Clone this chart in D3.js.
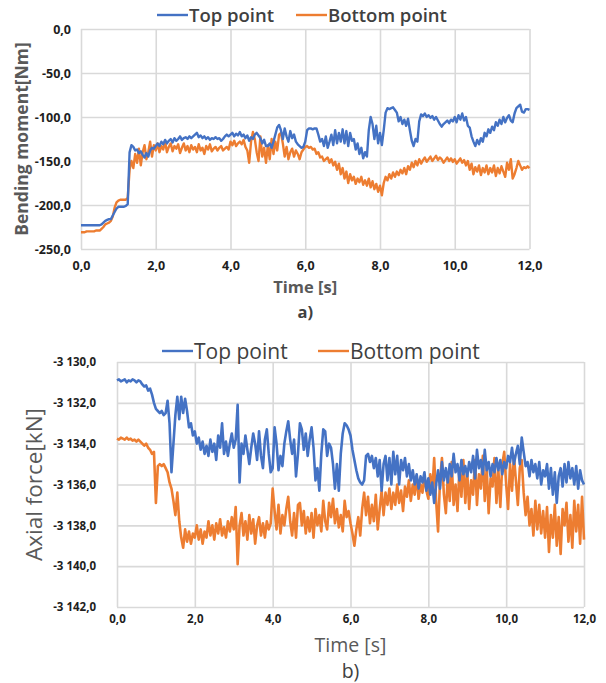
<!DOCTYPE html>
<html>
<head>
<meta charset="utf-8">
<script src="https://cdn.jsdelivr.net/npm/d3@7"></script>
<style>
  body { margin: 0; background: #fff; }
  svg { display: block; }
  text { font-family: "Open Sans", "DejaVu Sans", sans-serif; }
</style>
</head>
<body>
<svg id="chart" width="606" height="683"></svg>
<script>
// Sampling interval of both records (s)
const timeStep = 0.05;

// Panel a) bending moment [Nm]
const momentTop = [
  -223,-223,-223,-223,-223,-223,-223,-223,-223,-223,-223,-222,-220,-218,-217,-216,-216,-212,-208,-204,
  -202,-202,-202,-202,-201,-199,-140,-132,-134,-138,-137,-141,-139,-143,-146,-141,-145,-138,-135,-136,
  -133,-130,-133,-128,-131,-126,-130,-127,-125,-129,-124,-127,-125,-122,-126,-124,-123,-125,-122,-124,
  -122,-120,-118,-123,-121,-124,-122,-125,-123,-126,-124,-125,-123,-125,-124,-127,-125,-122,-120,-122,
  -120,-118,-122,-119,-121,-117,-122,-120,-124,-121,-127,-123,-125,-120,-118,-121,-124,-130,-126,-133,
  -133,-130,-135,-128,-120,-112,-109,-115,-125,-113,-122,-128,-116,-124,-120,-128,-131,-133,-135,-134,
  -128,-115,-113,-113,-114,-113,-113,-120,-128,-125,-133,-122,-135,-128,-120,-132,-115,-130,-118,-128,
  -114,-130,-116,-133,-118,-127,-125,-137,-130,-142,-135,-147,-140,-145,-115,-100,-108,-125,-110,-130,
  -118,-132,-115,-95,-90,-91,-90,-89,-92,-95,-105,-100,-108,-103,-110,-102,-115,-127,-133,-125,
  -128,-105,-97,-99,-96,-100,-98,-101,-99,-103,-100,-104,-108,-111,-108,-106,-104,-107,-103,-105,
  -100,-106,-98,-103,-96,-104,-100,-110,-112,-122,-128,-133,-126,-131,-124,-128,-118,-122,-114,-118,
  -111,-115,-106,-110,-103,-108,-100,-106,-101,-98,-104,-106,-96,-90,-88,-86,-94,-95,-91,-91,
  -92
];
const momentBottom = [
  -231,-231,-231,-230,-230,-230,-230,-230,-229,-229,-229,-227,-225,-222,-221,-220,-218,-213,-203,-197,
  -195,-194,-194,-194,-194,-192,-160,-150,-158,-142,-152,-136,-155,-140,-132,-148,-140,-128,-145,-132,
  -138,-130,-140,-133,-137,-128,-140,-134,-130,-139,-133,-136,-131,-141,-135,-130,-138,-133,-140,-132,
  -137,-134,-140,-131,-138,-135,-142,-133,-137,-131,-139,-136,-134,-138,-135,-133,-138,-136,-134,-137,
  -128,-132,-127,-133,-130,-128,-131,-126,-134,-138,-152,-128,-117,-125,-140,-150,-122,-145,-135,-152,
  -132,-148,-125,-142,-128,-138,-120,-118,-130,-145,-134,-148,-140,-136,-145,-138,-142,-148,-140,-137,
  -134,-133,-135,-134,-137,-136,-142,-140,-146,-145,-150,-148,-146,-152,-148,-155,-151,-160,-153,-165,
  -158,-170,-162,-175,-165,-172,-168,-176,-170,-174,-168,-177,-172,-178,-170,-180,-173,-182,-176,-185,
  -178,-189,-175,-168,-172,-165,-170,-163,-168,-162,-166,-160,-164,-158,-165,-156,-160,-152,-157,-150,
  -155,-148,-153,-149,-146,-151,-148,-145,-150,-147,-144,-149,-146,-148,-152,-149,-146,-150,-147,-151,
  -148,-153,-150,-147,-152,-149,-155,-150,-160,-153,-165,-157,-162,-155,-166,-158,-163,-155,-165,-158,
  -163,-155,-167,-158,-164,-156,-162,-168,-152,-160,-148,-170,-165,-158,-150,-155,-160,-157,-158,-156,
  -158
];

// Panel b) axial force [kN]
const forceTop = [
  -3130.9,-3130.85,-3130.95,-3130.9,-3130.85,-3131.0,-3130.9,-3130.95,-3130.85,-3130.9,-3131.0,-3130.9,-3130.95,-3131.1,-3131.2,-3131.15,-3131.4,-3131.3,-3131.6,-3132.0,
  -3132.3,-3132.4,-3132.5,-3132.4,-3132.6,-3132.5,-3131.9,-3133.0,-3135.4,-3134.0,-3132.6,-3131.7,-3132.8,-3131.7,-3132.5,-3131.8,-3132.4,-3133.2,-3133.0,-3133.6,
  -3133.4,-3134.0,-3133.7,-3134.3,-3133.9,-3134.5,-3134.1,-3134.6,-3133.8,-3134.4,-3134.0,-3134.8,-3133.6,-3134.2,-3133.0,-3134.5,-3133.9,-3134.6,-3134.0,-3133.5,
  -3134.2,-3133.8,-3132.1,-3135.9,-3134.0,-3134.5,-3133.6,-3134.3,-3135.0,-3134.2,-3133.5,-3134.0,-3134.8,-3133.4,-3134.6,-3135.2,-3133.8,-3133.3,-3134.5,-3135.4,
  -3135.2,-3133.2,-3134.0,-3135.3,-3134.6,-3135.1,-3134.0,-3133.4,-3132.9,-3133.8,-3134.5,-3133.8,-3135.6,-3134.5,-3133.0,-3133.3,-3134.3,-3133.5,-3134.6,-3133.8,
  -3133.2,-3134.2,-3135.8,-3135.2,-3136.3,-3134.5,-3133.3,-3133.4,-3134.6,-3134.0,-3134.2,-3135.0,-3136.2,-3135.0,-3136.3,-3134.5,-3133.5,-3133.0,-3133.1,-3133.3,
  -3133.6,-3134.3,-3134.8,-3135.3,-3135.7,-3135.9,-3136.0,-3135.8,-3134.6,-3134.5,-3134.9,-3134.6,-3135.2,-3134.7,-3135.6,-3134.8,-3136.3,-3135.0,-3134.6,-3135.8,
  -3134.7,-3136.0,-3134.4,-3135.5,-3134.6,-3136.0,-3134.8,-3135.3,-3134.7,-3135.6,-3135.0,-3135.8,-3135.3,-3136.0,-3135.5,-3136.2,-3135.6,-3135.9,-3135.4,-3136.3,
  -3135.7,-3136.5,-3135.9,-3136.9,-3136.0,-3135.3,-3136.2,-3134.9,-3135.8,-3135.2,-3135.9,-3135.0,-3135.6,-3134.5,-3135.4,-3135.0,-3135.8,-3134.8,-3135.5,-3135.1,
  -3135.6,-3134.9,-3135.4,-3134.6,-3135.7,-3134.3,-3135.2,-3134.8,-3135.5,-3134.3,-3135.3,-3134.9,-3135.6,-3135.0,-3135.4,-3134.7,-3135.3,-3134.8,-3135.5,-3134.9,
  -3135.2,-3134.6,-3134.9,-3134.2,-3135.0,-3134.5,-3134.1,-3135.0,-3133.7,-3134.4,-3135.1,-3134.9,-3135.6,-3134.8,-3135.4,-3135.0,-3135.7,-3134.9,-3136.0,-3135.3,
  -3135.6,-3135.0,-3136.2,-3135.2,-3136.5,-3135.4,-3136.9,-3135.6,-3135.2,-3136.1,-3135.0,-3135.9,-3134.9,-3135.7,-3135.2,-3136.0,-3135.1,-3136.2,-3135.3,-3135.8,
  -3136.0
];
const forceBottom = [
  -3133.75,-3133.8,-3133.7,-3133.75,-3133.8,-3133.7,-3133.8,-3133.75,-3133.85,-3133.8,-3133.9,-3133.8,-3133.9,-3134.0,-3134.1,-3134.0,-3134.2,-3134.3,-3134.5,-3134.4,
  -3136.9,-3135.1,-3135.0,-3135.1,-3135.0,-3135.2,-3135.4,-3135.9,-3136.2,-3136.8,-3137.5,-3136.4,-3137.8,-3138.6,-3139.1,-3138.2,-3138.8,-3138.3,-3138.9,-3138.4,
  -3138.6,-3138.0,-3138.7,-3138.2,-3138.9,-3138.3,-3138.6,-3137.8,-3138.5,-3138.0,-3138.7,-3137.9,-3138.4,-3137.7,-3138.5,-3138.1,-3138.6,-3137.8,-3138.3,-3137.6,
  -3138.2,-3137.1,-3139.9,-3138.0,-3137.4,-3138.5,-3137.8,-3138.7,-3137.5,-3138.4,-3137.7,-3138.9,-3138.0,-3137.6,-3138.5,-3137.9,-3138.6,-3137.8,-3138.2,-3137.9,
  -3136.2,-3137.3,-3138.2,-3137.0,-3138.4,-3137.5,-3138.0,-3137.2,-3136.6,-3137.8,-3138.5,-3137.4,-3138.6,-3137.0,-3136.9,-3138.0,-3137.3,-3138.4,-3137.6,-3138.3,
  -3137.4,-3138.6,-3137.2,-3138.0,-3137.5,-3138.3,-3136.8,-3137.8,-3138.2,-3136.9,-3137.6,-3136.7,-3137.9,-3137.2,-3138.1,-3137.5,-3138.3,-3136.8,-3137.6,-3137.3,
  -3137.9,-3138.4,-3139.0,-3138.2,-3137.6,-3138.5,-3137.2,-3136.4,-3137.5,-3136.6,-3137.9,-3137.0,-3137.8,-3136.5,-3138.2,-3137.2,-3136.3,-3137.5,-3136.4,-3137.0,
  -3136.2,-3137.2,-3136.4,-3137.0,-3136.0,-3136.9,-3136.3,-3137.3,-3136.1,-3136.6,-3135.8,-3136.8,-3136.0,-3136.5,-3135.6,-3136.7,-3136.0,-3136.4,-3135.6,-3136.3,
  -3136.7,-3135.5,-3136.4,-3134.7,-3136.8,-3138.3,-3135.8,-3134.7,-3136.5,-3137.4,-3135.6,-3136.8,-3134.9,-3137.0,-3136.0,-3137.3,-3135.2,-3136.6,-3134.8,-3136.9,
  -3135.4,-3137.2,-3135.8,-3136.5,-3134.8,-3137.0,-3135.5,-3136.2,-3134.6,-3136.8,-3135.2,-3137.4,-3135.7,-3136.1,-3134.7,-3136.9,-3135.3,-3137.1,-3135.0,-3134.4,
  -3136.0,-3137.2,-3135.0,-3136.3,-3134.6,-3135.8,-3137.0,-3135.2,-3134.8,-3136.4,-3137.5,-3136.6,-3138.0,-3137.2,-3138.5,-3136.8,-3138.2,-3137.0,-3138.4,-3137.3,
  -3138.6,-3137.1,-3139.3,-3137.5,-3138.6,-3137.0,-3139.0,-3137.6,-3139.4,-3137.2,-3138.0,-3136.9,-3138.8,-3137.5,-3139.1,-3136.8,-3138.3,-3137.0,-3138.9,-3136.6,
  -3138.7
];

// Tick values and labels
const timeTicks = [0, 2, 4, 6, 8, 10, 12];
const momentTicks = [-250, -200, -150, -100, -50, 0];
const forceTicks = [-3142, -3140, -3138, -3136, -3134, -3132, -3130];
const seriesNames = ["Top point", "Bottom point"];
const seriesColors = ["#4472C4", "#ED7D31"];

const locale = d3.formatLocale({ decimal: ",", thousands: " ", grouping: [3], currency: ["", ""], minus: "-" });
const fmt = locale.format(",.1f");

const svg = d3.select("#chart");

function drawPanel(cfg) {
  const x = d3.scaleLinear().domain([0, 12]).range([cfg.left, cfg.right]);
  const y = d3.scaleLinear().domain(cfg.yDomain).range([cfg.bottom, cfg.top]);
  const g = svg.append("g");

  // grid + tick labels
  const yAxis = g.append("g")
    .attr("transform", `translate(${cfg.left},0)`)
    .call(d3.axisLeft(y).tickValues(cfg.yTicks).tickFormat(fmt)
      .tickSize(-(cfg.right - cfg.left)).tickPadding(cfg.yPad));
  const xAxis = g.append("g")
    .attr("transform", `translate(0,${cfg.bottom})`)
    .call(d3.axisBottom(x).tickValues(timeTicks).tickFormat(fmt)
      .tickSize(-(cfg.bottom - cfg.top)).tickPadding(cfg.xPad));
  [yAxis, xAxis].forEach(a => {
    a.select(".domain").remove();
    a.selectAll(".tick line").attr("stroke", "#d9d9d9").attr("stroke-width", 1.6);
    a.selectAll(".tick text")
      .attr("fill", "#1e1e1e")
      .style("font-size", cfg.tickSize + "px")
      .style("font-weight", 700)
      .style("font-family", '"Open Sans", sans-serif');
  });

  // series lines (bottom point first so the top point sits above it)
  const line = d3.line().x((d, i) => x(i * timeStep)).y(d => y(d));
  [1, 0].forEach(k => {
    g.append("path")
      .datum(cfg.series[k])
      .attr("fill", "none")
      .attr("stroke", seriesColors[k])
      .attr("stroke-width", cfg.lineWidth)
      .attr("stroke-linejoin", "round")
      .attr("d", line);
  });

  // legend
  cfg.legend.forEach((it, i) => {
    g.append("line")
      .attr("x1", it.x).attr("x2", it.x + 31)
      .attr("y1", cfg.legendY).attr("y2", cfg.legendY)
      .attr("stroke", seriesColors[i]).attr("stroke-width", 2.4);
    g.append("text")
      .attr("x", it.x + 32).attr("y", cfg.legendY + cfg.legendSize * 0.36)
      .attr("fill", "#404040")
      .style("font-size", cfg.legendSize + "px")
      .style("font-weight", cfg.legendWeight)
      .text(seriesNames[i]);
  });

  // axis titles and panel caption
  const cx = (cfg.left + cfg.right) / 2;
  g.append("text")
    .attr("transform", `translate(${cfg.yTitleX},${(cfg.top + cfg.bottom) / 2}) rotate(-90)`)
    .attr("text-anchor", "middle")
    .attr("fill", "#595959")
    .style("font-size", cfg.yTitleSize + "px")
    .style("font-weight", cfg.titleWeight)
    .text(cfg.yTitle);
  g.append("text")
    .attr("x", cx).attr("y", cfg.xTitleY)
    .attr("text-anchor", "middle")
    .attr("fill", "#595959")
    .style("font-size", cfg.xTitleSize + "px")
    .style("font-weight", cfg.titleWeight)
    .text("Time [s]");
  g.append("text")
    .attr("x", cx).attr("y", cfg.captionY)
    .attr("text-anchor", "middle")
    .attr("fill", "#404040")
    .style("font-size", cfg.xTitleSize + "px")
    .style("font-weight", cfg.titleWeight)
    .text(cfg.caption);
}

drawPanel({
  left: 81, right: 529.5, top: 29, bottom: 249,
  yDomain: [-250, 0], yTicks: momentTicks,
  yPad: 10, xPad: 12, tickSize: 12.5, lineWidth: 2.4,
  series: [momentTop, momentBottom],
  legend: [{ x: 157 }, { x: 296 }], legendY: 15, legendSize: 18.5, legendWeight: 600,
  yTitle: "Bending moment[Nm]", yTitleX: 28, yTitleSize: 17.5,
  xTitleY: 293, xTitleSize: 16.5, captionY: 318, caption: "a)", titleWeight: 700
});

drawPanel({
  left: 117, right: 584, top: 362, bottom: 607,
  yDomain: [-3142, -3130], yTicks: forceTicks,
  yPad: 21, xPad: 8, tickSize: 11.5, lineWidth: 2.6,
  series: [forceTop, forceBottom],
  legend: [{ x: 162 }, { x: 318 }], legendY: 351, legendSize: 21, legendWeight: 500,
  yTitle: "Axial force[kN]", yTitleX: 42, yTitleSize: 22.5,
  xTitleY: 652, xTitleSize: 19.5, captionY: 678, caption: "b)", titleWeight: 400
});
</script>
</body>
</html>
